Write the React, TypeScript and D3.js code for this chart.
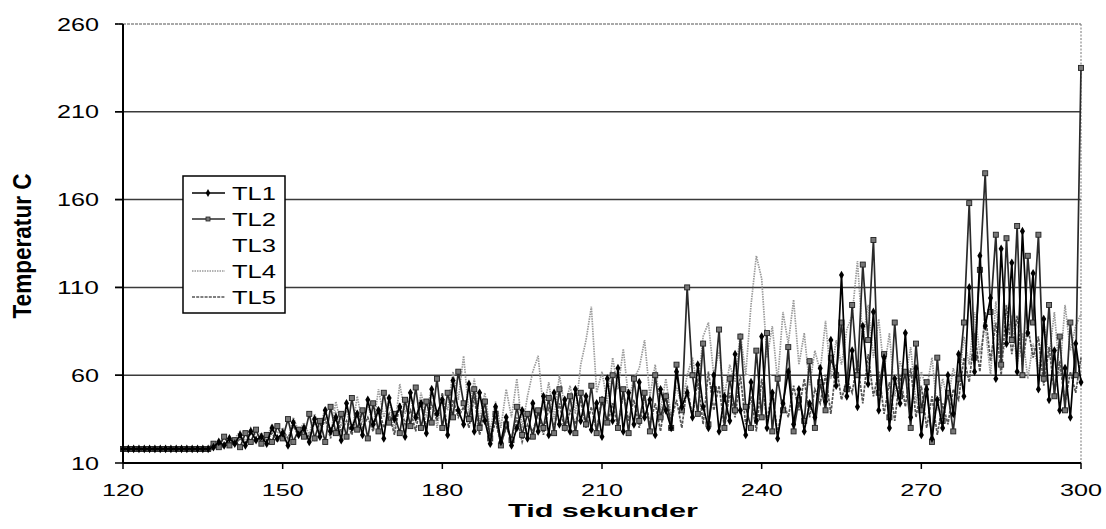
import React from 'react';
import * as d3 from 'd3';

// ---- data ----
const xTicks = [120, 150, 180, 210, 240, 270, 300];
const yTicks = [10, 60, 110, 160, 210, 260];
const seriesNames = ['TL1', 'TL2', 'TL3', 'TL4', 'TL5'];

// one sample per second, t = 120 .. 300
const startTime = 120;

const tl1 = [
  18, 18, 18, 18, 18, 18, 18, 18, 18, 18, 18, 18, 18, 18, 18, 18, 18,
  19, 22, 20, 24, 21, 26, 20, 28, 23, 25,
  21, 30, 24, 27, 20, 33, 26, 30, 22, 35,
  25, 40, 28, 36, 23, 44, 30, 38, 26, 46,
  32, 40, 24, 47, 35, 42, 25, 50, 36, 44,
  27, 52, 38, 46, 26, 57, 40, 32, 55, 28,
  50, 34, 21, 42, 22, 36, 20, 30, 40, 24,
  44, 28, 48, 26, 50, 32, 46, 28, 52, 34,
  48, 29, 44, 25, 58, 34, 64, 28, 50, 32,
  56, 36, 46, 26, 52, 40, 30, 62, 42, 50,
  36, 66, 42, 30, 60, 28, 48, 34, 72, 40,
  26, 56, 34, 82, 30, 50, 24, 44, 62, 32,
  52, 28, 44, 36, 64, 45, 80, 54, 117, 48,
  74, 42, 88, 55, 96, 40, 70, 30, 58, 44,
  84, 36, 64, 26, 52, 24, 46, 30, 60, 38,
  72, 48, 110, 62, 128, 88, 104, 58, 132, 78,
  124, 62, 142, 84, 118, 52, 92, 46, 74, 40,
  64, 36, 78, 56,
];

const tl2 = [
  18, 18, 18, 18, 18, 18, 18, 18, 18, 18, 18, 18, 18, 18, 18, 18, 18,
  21, 19, 25, 20, 23, 19, 27, 22, 29, 21,
  26, 22, 31, 24, 35, 22, 29, 25, 38, 24,
  34, 22, 42, 27, 38, 25, 47, 29, 40, 24,
  44, 28, 50, 33, 38, 27, 46, 31, 53, 30,
  45, 33, 58, 30, 50, 36, 62, 44, 35, 52,
  30, 45, 24, 38, 20, 32, 23, 42, 26, 38,
  25, 40, 30, 47, 27, 52, 30, 48, 27, 50,
  32, 54, 27, 46, 33, 60, 30, 52, 27, 58,
  34, 50, 28, 60, 36, 48, 30, 66, 40, 110,
  60, 38, 78, 32, 52, 86, 30, 58, 40, 82,
  42, 30, 74, 36, 84, 28, 58, 40, 76, 28,
  46, 34, 68, 30, 56, 40, 70, 60, 90, 52,
  100, 60, 123, 80, 137, 50, 72, 36, 90, 48,
  62, 30, 78, 40, 56, 22, 70, 34, 50, 28,
  58, 90, 158, 70, 120, 175, 96, 140, 66, 138,
  80, 145, 60, 128, 90, 140, 58, 100, 48, 82,
  40, 90, 60, 235,
];

const tl4 = [
  18, 18, 18, 18, 18, 18, 18, 18, 18, 18, 18, 18, 18, 18, 18, 18, 18,
  22, 20, 26, 21, 24, 28, 22, 30, 25, 27,
  24, 32, 27, 30, 23, 36, 28, 33, 26, 38,
  29, 42, 26, 45, 31, 40, 27, 48, 33, 44,
  30, 52, 36, 46, 28, 55, 38, 48, 33, 50,
  36, 54, 30, 48, 40, 62, 46, 71, 38, 58,
  34, 50, 28, 45, 30, 52, 36, 58, 30, 48,
  62, 71, 40, 56, 35, 60, 42, 54, 38, 66,
  80, 99, 50, 62, 44, 70, 52, 75, 46, 58,
  64, 80, 48, 66, 40, 58, 36, 54, 42, 60,
  70, 52, 82, 90, 60, 74, 48, 66, 56, 84,
  60, 100, 128, 115, 70, 88, 56, 96, 78, 103,
  66, 84, 54, 74, 62, 91, 58, 80, 66, 86,
  94, 125, 80, 100, 70, 92, 62, 84, 48, 68,
  58, 76, 44, 62, 52, 70, 40, 58, 46, 64,
  54, 82, 66, 96, 72, 88, 60, 102, 70, 80,
  94, 66, 84, 58, 78, 62, 90, 70, 96, 60,
  100, 74, 88, 95,
];

const tl5 = [
  17, 17, 17, 17, 17, 17, 17, 17, 17, 17, 17, 17, 17, 17, 17, 17, 17,
  18, 20, 19, 22, 20, 24, 21, 23, 22, 26,
  23, 27, 22, 29, 24, 31, 26, 28, 25, 33,
  27, 35, 24, 38, 28, 34, 26, 40, 30, 36,
  28, 42, 30, 38, 26, 44, 32, 40, 28, 46,
  30, 44, 34, 50, 28, 46, 36, 42, 30, 48,
  26, 40, 22, 34, 21, 30, 24, 36, 22, 32,
  28, 38, 26, 42, 30, 44, 28, 40, 32, 46,
  30, 42, 28, 48, 32, 44, 30, 50, 34, 46,
  30, 48, 32, 44, 28, 50, 34, 46, 30, 54,
  36, 58, 32, 62, 40, 54, 30, 50, 36, 60,
  32, 48, 28, 58, 34, 52, 26, 46, 36, 54,
  40, 58, 36, 52, 44, 60, 38, 66, 46, 58,
  50, 68, 44, 72, 48, 62, 38, 56, 34, 60,
  42, 64, 36, 54, 30, 48, 26, 44, 32, 52,
  46, 70, 56, 84, 62, 96, 68, 90, 60, 100,
  72, 94, 66, 88, 70, 82, 54, 76, 50, 68,
  44, 62, 50, 70,
];

// TL3 (white in the print) sampled every 5 s
const tl3Times = [120, 125, 130, 135, 140, 145, 150, 155, 160, 165, 170, 175, 180, 185, 190, 195, 200, 205, 210, 215, 220, 225, 230, 235, 240, 245, 250, 255, 260, 265, 270, 275, 280, 285, 290, 295, 300];
const tl3 = [18, 18, 18, 18, 24, 27, 30, 33, 38, 40, 44, 46, 50, 42, 30, 36, 40, 44, 46, 50, 48, 55, 60, 58, 62, 55, 58, 66, 72, 60, 50, 52, 80, 90, 85, 70, 60];

// ---- layout ----
const W = 1106;
const H = 529;
const M = { left: 123, right: 1081, top: 24, bottom: 463 };
const FONT = "'Liberation Sans', Arial, sans-serif";

type Pt = [number, number];

function toPoints(vals: number[]): Pt[] {
  return vals.map((v, i) => [startTime + i, v]);
}

export default function App() {
  const x = d3.scaleLinear().domain([120, 300]).range([M.left, M.right]);
  const y = d3.scaleLinear().domain([10, 260]).range([M.bottom, M.top]);
  const line = d3
    .line<Pt>()
    .x((d) => x(d[0]))
    .y((d) => y(d[1]));

  const p1 = toPoints(tl1);
  const p2 = toPoints(tl2);
  const p4 = toPoints(tl4);
  const p5 = toPoints(tl5);
  const p3: Pt[] = tl3.map((v, i) => [tl3Times[i], v]);

  const legendRows = [193, 219, 245, 271, 297];

  return (
    <svg width={W} height={H} style={{ display: 'block', position: 'absolute', left: 0, top: 0, background: '#fff' }}>
      <rect x={0} y={0} width={W} height={H} fill="#fff" />
      {/* gridlines */}
      {yTicks.filter((t) => t > 10).map((t) => (
        <line key={'g' + t} x1={M.left - 8} x2={M.right} y1={y(t)} y2={y(t)}
          stroke={t === 260 ? '#555' : '#3a3a3a'} strokeWidth={t === 260 ? 1.2 : 1.5}
          strokeDasharray={t === 260 ? '3 1' : undefined} />
      ))}
      {/* right border */}
      <line x1={M.right} x2={M.right} y1={M.top} y2={M.bottom} stroke="#777" strokeWidth={1} strokeDasharray="2 1.5" />

      {/* series */}
      <path d={line(p3) || ''} fill="none" stroke="#ffffff" strokeWidth={1} />
      <path d={line(p4) || ''} fill="none" stroke="#9a9a9a" strokeWidth={1.7} strokeDasharray="1.5 1" />
      <path d={line(p5) || ''} fill="none" stroke="#555" strokeWidth={1.7} strokeDasharray="3 1.2" />
      <path d={line(p2) || ''} fill="none" stroke="#2a2a2a" strokeWidth={1.7} />
      {p2.map((d, i) => (
        <rect key={'m2' + i} x={x(d[0]) - 2.5} y={y(d[1]) - 2.5} width={5} height={5} fill="#777" stroke="#222" strokeWidth={0.9} />
      ))}
      <path d={line(p1) || ''} fill="none" stroke="#000" strokeWidth={1.7} />
      {p1.map((d, i) => (
        <path key={'m1' + i} d={d3.symbol(d3.symbolDiamond, 22)() || ''}
          transform={`translate(${x(d[0])},${y(d[1])})`} fill="#000" />
      ))}

      {/* axes */}
      <line x1={M.left} x2={M.left} y1={M.top} y2={M.bottom} stroke="#000" strokeWidth={2} />
      <line x1={M.left} x2={M.right} y1={M.bottom} y2={M.bottom} stroke="#000" strokeWidth={2} />
      {yTicks.map((t) => (
        <g key={'yt' + t}>
          <line x1={M.left - 8} x2={M.left} y1={y(t)} y2={y(t)} stroke="#000" strokeWidth={1.5} />
          <text x={99} y={y(t) + 6.5} textAnchor="end" fontFamily={FONT} fontSize={18}
            textLength={String(t).length * 14} lengthAdjust="spacingAndGlyphs" fill="#000">{t}</text>
        </g>
      ))}
      {xTicks.map((t) => (
        <g key={'xt' + t}>
          <line x1={x(t)} x2={x(t)} y1={M.bottom} y2={M.bottom + 6} stroke="#000" strokeWidth={1.5} />
          <text x={x(t)} y={496} textAnchor="middle" fontFamily={FONT} fontSize={17}
            textLength={42} lengthAdjust="spacingAndGlyphs" fill="#000">{t}</text>
        </g>
      ))}

      {/* axis titles */}
      <text x={603} y={517} textAnchor="middle" fontFamily={FONT} fontSize={19} fontWeight="bold"
        textLength={190} lengthAdjust="spacingAndGlyphs">Tid sekunder</text>
      <text transform="translate(31,246) rotate(-90)" textAnchor="middle" fontFamily={FONT} fontSize={25}
        fontWeight="bold" textLength={145} lengthAdjust="spacingAndGlyphs">Temperatur C</text>

      {/* legend */}
      <rect x={183} y={176} width={102} height={137} fill="#fff" stroke="#000" strokeWidth={1.5} />
      {seriesNames.map((name, i) => {
        const ly = legendRows[i];
        return (
          <g key={name}>
            {i === 0 && <line x1={192} x2={225} y1={ly} y2={ly} stroke="#000" strokeWidth={1.3} />}
            {i === 0 && <path d={d3.symbol(d3.symbolDiamond, 18)() || ''} transform={`translate(208,${ly})`} fill="#000" />}
            {i === 1 && <line x1={192} x2={225} y1={ly} y2={ly} stroke="#2a2a2a" strokeWidth={1.3} />}
            {i === 1 && <rect x={206} y={ly - 2} width={4} height={4} fill="#777" stroke="#222" strokeWidth={0.8} />}
            {i === 2 && <line x1={192} x2={225} y1={ly} y2={ly} stroke="#ffffff" strokeWidth={1} />}
            {i === 3 && <line x1={192} x2={225} y1={ly} y2={ly} stroke="#9a9a9a" strokeWidth={1.3} strokeDasharray="1.5 1" />}
            {i === 4 && <line x1={192} x2={225} y1={ly} y2={ly} stroke="#555" strokeWidth={1.3} strokeDasharray="3 1.2" />}
            <text x={232} y={ly + 7} fontFamily={FONT} fontSize={19} textLength={44} lengthAdjust="spacingAndGlyphs">{name}</text>
          </g>
        );
      })}
    </svg>
  );
}
